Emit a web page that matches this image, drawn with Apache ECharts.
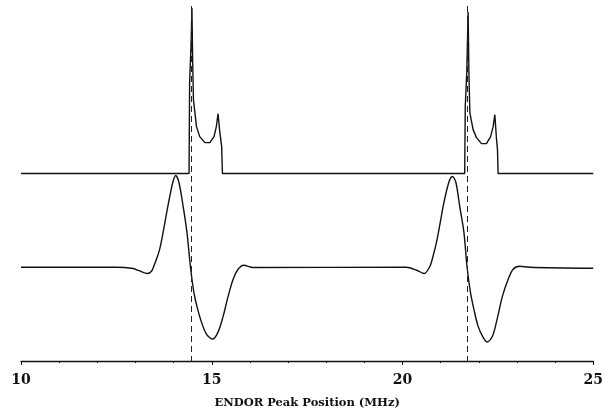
<!DOCTYPE html>
<html>
<head>
<meta charset="utf-8">
<script src="https://cdn.jsdelivr.net/npm/echarts@6/dist/echarts.min.js"></script>
<style>
  html, body { margin: 0; padding: 0; background: #fff; }
  #chart { width: 606px; height: 414px; }
</style>
</head>
<body>
<div id="chart"></div>
<script>
// ENDOR powder pattern (top) and its derivative (bottom), arbitrary units
const xTicks = [10, 15, 20, 25];
const markerFreqs = [14.47, 21.71];

const powderFreq = [10, 14.405, 14.42, 14.46, 14.48, 14.5, 14.52, 14.6, 14.685, 14.82, 14.95, 15.06, 15.12, 15.165, 15.21, 15.26, 15.28,
  21.63, 21.645, 21.685, 21.72, 21.74, 21.765, 21.85, 21.94, 22.07, 22.2, 22.31, 22.375, 22.42, 22.465, 22.49, 22.505, 25];
const powderSignal = [188, 188, 279, 320, 354, 300, 262, 235, 225, 219, 219, 225, 235, 248, 230, 215, 188,
  188, 255, 290, 350, 290, 249, 232, 224, 218, 218, 225, 235, 247, 222, 212, 188, 188];

const derivFreq = [10, 12.5, 12.94, 13.11, 13.31, 13.42, 13.49, 13.56, 13.64, 13.72, 13.81, 13.9, 13.985, 14.055, 14.14, 14.25, 14.35, 14.44,
  14.53, 14.61, 14.73, 14.86, 15.02, 15.165, 15.3, 15.43, 15.56, 15.69, 15.84, 16.08,
  20.1, 20.37, 20.57, 20.72, 20.8, 20.89, 20.98, 21.065, 21.15, 21.24, 21.31, 21.4, 21.5, 21.61, 21.69,
  21.78, 21.87, 21.98, 22.11, 22.22, 22.36, 22.48, 22.62, 22.77, 22.9, 23.07, 23.33, 25];
const derivSignal = [94, 94, 92.7, 90.3, 87.7, 90, 96, 103, 113, 128, 147, 165, 180, 186, 179, 155, 129, 95,
  69, 55, 39, 27, 22, 29, 45, 65, 82, 92, 96, 93.7,
  94, 91, 87.7, 95, 105, 119, 137, 155, 170, 182, 185, 179, 155, 129, 95,
  69, 52, 35, 24, 19, 25, 42, 65, 82, 92, 95, 94, 93];

const pairs = (xs, ys) => xs.map((x, i) => [x, ys[i]]);

const myChart = echarts.init(document.getElementById('chart'));
myChart.setOption({
  animation: false,
  grid: { left: 21, right: 12, top: 3, bottom: 51 },
  xAxis: {
    type: 'value',
    min: xTicks[0],
    max: xTicks[xTicks.length - 1],
    interval: 5,
    name: 'ENDOR Peak Position (MHz)',
    nameLocation: 'middle',
    nameGap: 35,
    nameTextStyle: { fontFamily: 'DejaVu Serif', fontWeight: 'bold', fontSize: 11.5, color: '#111' },
    axisLine: { lineStyle: { color: '#111', width: 1.3 } },
    axisTick: { show: true, length: 4, lineStyle: { color: '#111' } },
    minorTick: { show: true, splitNumber: 5, length: 2, lineStyle: { color: '#111' } },
    splitLine: { show: false },
    axisLabel: { fontFamily: 'DejaVu Serif', fontWeight: 'bold', fontSize: 14, color: '#111', margin: 11 },
  },
  yAxis: {
    type: 'value',
    min: -1,
    max: 359,
    show: false,
  },
  series: [
    {
      name: 'powder',
      type: 'line',
      data: pairs(powderFreq, powderSignal),
      showSymbol: false,
      lineStyle: { color: '#111', width: 1.4 },
      markLine: {
        silent: true,
        symbol: 'none',
        label: { show: false },
        lineStyle: { color: '#222', type: [6, 4], width: 1 },
        data: markerFreqs.map((f) => ({ xAxis: f })),
      },
    },
    {
      name: 'derivative',
      type: 'line',
      data: pairs(derivFreq, derivSignal),
      showSymbol: false,
      smooth: 0.3,
      lineStyle: { color: '#111', width: 1.4 },
    },
  ],
});
</script>
</body>
</html>
